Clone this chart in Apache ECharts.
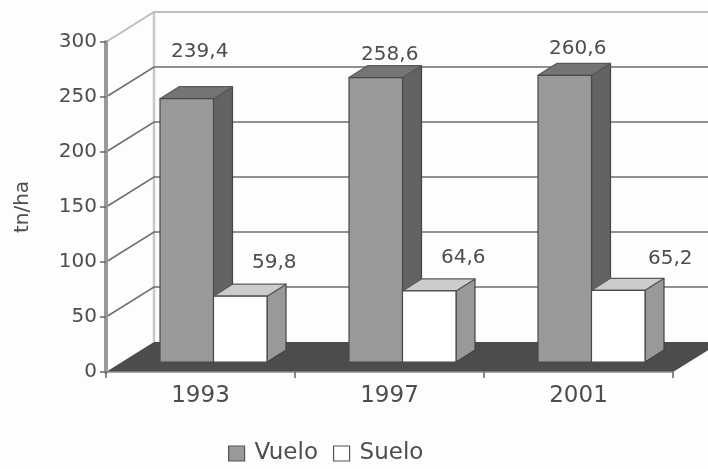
<!DOCTYPE html>
<html>
<head>
<meta charset="utf-8">
<style>
html,body{margin:0;padding:0;background:#fdfdfd}
#c{width:708px;height:469px;filter:blur(0.6px)}
</style>
<script src="https://cdn.jsdelivr.net/npm/echarts@6/dist/echarts.min.js"></script>
</head>
<body>
<div id="c"></div>
<script>
const categories = ['1993', '1997', '2001'];
const vuelo = [239.4, 258.6, 260.6];
const suelo = [59.8, 64.6, 65.2];
const ticks = [0, 50, 100, 150, 200, 250, 300];
const vueloLabelOffset = [[13, -47], [14, -23], [13, -27]];
const sueloLabelOffset = [[34, -33], [34, -33], [52, -31]];

// 3D projection of the plot box, pixels
const WALL = {dx: 48, dy: -30};
const BAR = {width: 53.5, shift: 13, lift: 10, dx: 19, dy: -12};
const FONT = 'DejaVu Sans';
const TEXT = '#4d4d4d';
const fmt = v => v.toFixed(1).replace('.', ',');

const poly = (points, fill, stroke, lw) => ({
  type: 'polygon', shape: {points},
  style: {fill, stroke: stroke || null, lineWidth: lw || 0, lineJoin: 'round'}
});
const line = (a, b, stroke, lw) => ({
  type: 'polyline', shape: {points: [a, b]},
  style: {fill: null, stroke, lineWidth: lw}
});
const poly3 = (a, b, c, stroke, lw) => ({
  type: 'polyline', shape: {points: [a, b, c]},
  style: {fill: null, stroke, lineWidth: lw}
});

function renderBack(params, api) {
  const v = api.value(1);
  const rect = params.coordSys;
  const p = api.coord([0, v]);
  const y = p[1], x0 = rect.x, x1 = rect.x + rect.width;
  const children = [];
  if (v === 0) {
    const bx = x0 + WALL.dx, by = y + WALL.dy;
    children.push(line([bx, rect.y + WALL.dy], [bx, by], '#c8c8c8', 2.5));
    children.push(poly([[x0, y], [x1, y], [x1 + WALL.dx, by], [bx, by]], '#4c4c4c'));
  } else {
    const light = v === 300;
    children.push(poly3([x0, y], [x0 + WALL.dx, y + WALL.dy], [x1 + WALL.dx, y + WALL.dy],
      light ? '#bdbdbd' : '#6e6e6e', light ? 2 : 1.5));
  }
  return {type: 'group', children};
}

function makeBar(colors, side, offsets) {
  return function (params, api) {
    const i = api.value(0), v = api.value(1);
    const c = api.coord([i, v]), o = api.coord([i, 0]);
    const left = c[0] + BAR.shift + (side === 0 ? -BAR.width : 0);
    const right = left + BAR.width;
    const base = o[1] - BAR.lift;
    const top = base - (o[1] - c[1]);
    const d = BAR.dx, e = BAR.dy;
    const off = offsets[i];
    return {
      type: 'group',
      children: [
        poly([[right, base], [right + d, base + e], [right + d, top + e], [right, top]], colors.side, '#444', 1.2),
        poly([[left, top], [left + d, top + e], [right + d, top + e], [right, top]], colors.top, '#5a5a5a', 1.2),
        poly([[left, base], [right, base], [right, top], [left, top]], colors.front, '#4a4a4a', 1.2),
        {
          type: 'text',
          style: {
            x: (left + right) / 2 + off[0], y: top + off[1],
            text: fmt(v), align: 'center', verticalAlign: 'middle',
            font: '20px "' + FONT + '"', fill: TEXT
          }
        }
      ]
    };
  };
}

const chart = echarts.init(document.getElementById('c'), null, {renderer: 'canvas'});
chart.setOption({
  animation: false,
  backgroundColor: '#fdfdfd',
  grid: {left: 106, right: 35, top: 42, bottom: 97, containLabel: false},
  xAxis: {
    type: 'category', data: categories, z: 10,
    axisLine: {lineStyle: {color: '#888', width: 1.5}},
    axisTick: {show: true, alignWithLabel: false, length: 6, lineStyle: {color: '#666', width: 1.5}},
    axisLabel: {fontFamily: FONT, fontSize: 23, color: TEXT, margin: 13},
    splitLine: {show: false}
  },
  yAxis: {
    type: 'value', min: 0, max: 300, interval: 50, z: 10,
    name: 'tn/ha', nameLocation: 'middle', nameRotate: 90, nameGap: 73,
    nameTextStyle: {fontFamily: FONT, fontSize: 20, color: TEXT},
    axisLine: {show: true, lineStyle: {color: '#999', width: 4}},
    axisTick: {show: true, length: 6, lineStyle: {color: '#666', width: 1.5}},
    axisLabel: {fontFamily: FONT, fontSize: 20, color: TEXT, margin: 9, padding: [3, 0, 0, 0]},
    splitLine: {show: false}
  },
  legend: {
    data: [
      {name: 'Vuelo', itemStyle: {color: '#999', borderColor: '#555', borderWidth: 1.2}},
      {name: 'Suelo', itemStyle: {color: '#fff', borderColor: '#555', borderWidth: 1.2}}
    ],
    left: 228, top: 442, padding: 0, icon: 'rect', itemWidth: 16, itemHeight: 15, itemGap: 15,
    textStyle: {fontFamily: FONT, fontSize: 23, color: TEXT, padding: [0, 0, 0, 5]}
  },
  series: [
    {
      type: 'custom', name: 'Fondo', z: 1, silent: true, clip: false,
      data: ticks.map(t => [0, t]), encode: {x: 0, y: 1},
      renderItem: renderBack
    },
    {
      type: 'custom', name: 'Vuelo', z: 2, clip: false,
      itemStyle: {color: '#999'},
      data: vuelo.map((v, i) => [i, v]), encode: {x: 0, y: 1},
      renderItem: makeBar({front: '#999', side: '#636363', top: '#747474'}, 0, vueloLabelOffset)
    },
    {
      type: 'custom', name: 'Suelo', z: 3, clip: false,
      itemStyle: {color: '#fff'},
      data: suelo.map((v, i) => [i, v]), encode: {x: 0, y: 1},
      renderItem: makeBar({front: '#fff', side: '#999', top: '#ccc'}, 1, sueloLabelOffset)
    }
  ]
});
</script>
</body>
</html>
